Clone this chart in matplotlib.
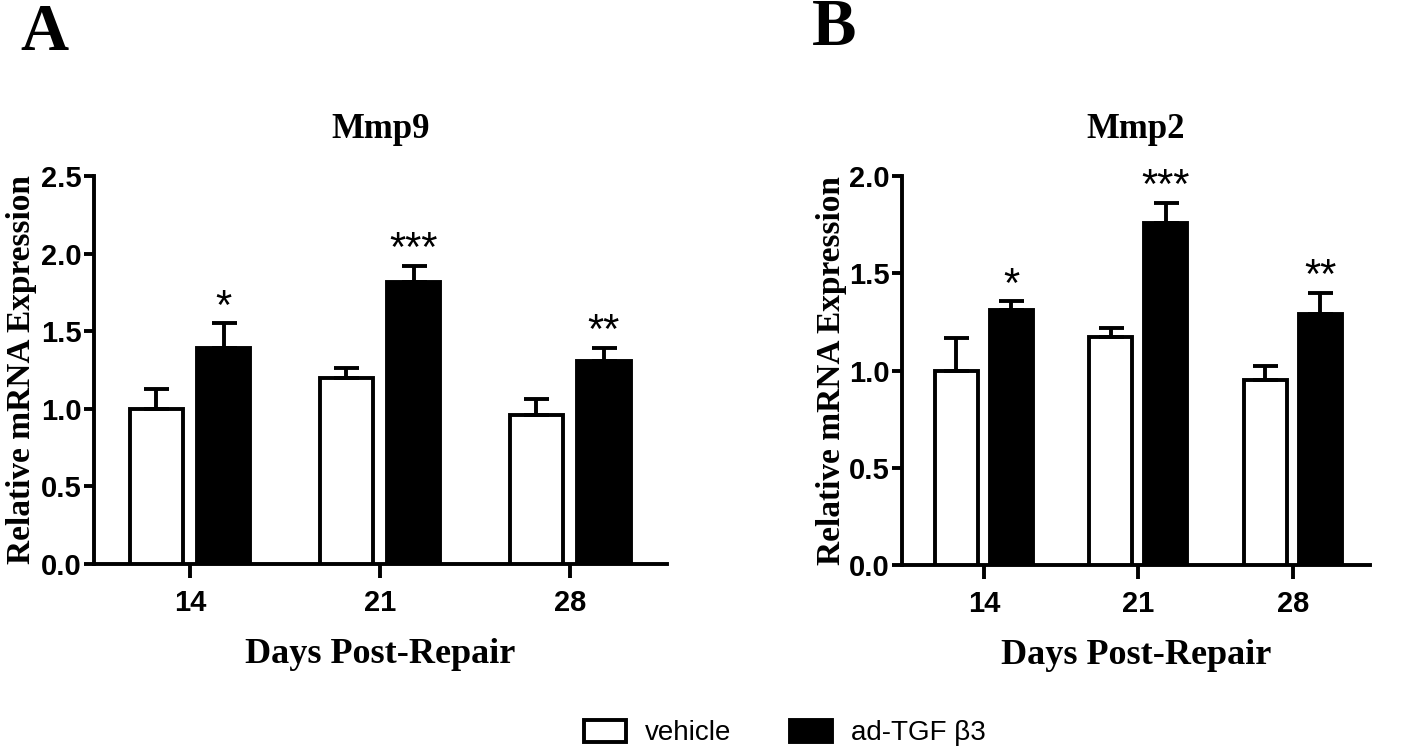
import matplotlib
matplotlib.use("Agg")
import matplotlib.pyplot as plt
import numpy as np
from matplotlib.patches import Patch

days = ["14", "21", "28"]
groups = ["vehicle", "ad-TGF β3"]

mmp9_vehicle = [1.00, 1.20, 0.96]
mmp9_vehicle_err = [0.13, 0.06, 0.10]
mmp9_tgf = [1.39, 1.82, 1.31]
mmp9_tgf_err = [0.16, 0.10, 0.08]
mmp9_sig = ["*", "***", "**"]

mmp2_vehicle = [1.00, 1.17, 0.95]
mmp2_vehicle_err = [0.165, 0.05, 0.075]
mmp2_tgf = [1.31, 1.76, 1.29]
mmp2_tgf_err = [0.045, 0.10, 0.11]
mmp2_sig = ["*", "***", "**"]

SERIF = "Liberation Serif"
SANS = "Liberation Sans"
LW = 2.8

fig = plt.figure(figsize=(14.18, 7.49), dpi=100)
axA = fig.add_axes([94/1418, 1-564/749, 573/1418, 388/749])
axB = fig.add_axes([902/1418, 1-565/749, 468/1418, 389/749])


def panel(ax, veh, veh_err, tgf, tgf_err, sig, title, ymax, yticks, xlim, ylpad):
    x = np.arange(len(days))
    w = 0.28
    off = 0.178
    ek = dict(elinewidth=LW, capthick=LW, ecolor="black", capsize=9)
    ax.bar(x - off, veh, w, color="white", edgecolor="black", linewidth=LW,
           yerr=[np.zeros(len(veh)), veh_err], error_kw=ek, zorder=3)
    ax.bar(x + off, tgf, w, color="black", edgecolor="black", linewidth=LW,
           yerr=[np.zeros(len(tgf)), tgf_err], error_kw=ek, zorder=3)
    for i in range(len(days)):
        ax.annotate(sig[i], (x[i] + off, tgf[i] + tgf_err[i]), xytext=(0, -3),
                    textcoords="offset points", ha="center", va="bottom",
                    fontsize=30, fontfamily=SANS)
    ax.set_ylim(0, ymax)
    ax.set_xlim(*xlim)
    ax.set_yticks(yticks)
    ax.set_yticklabels([f"{t:.1f}" for t in yticks], fontfamily=SANS,
                       fontweight="bold", fontsize=21)
    ax.set_xticks(x)
    ax.set_xticklabels(days, fontfamily=SANS, fontweight="bold", fontsize=21)
    ax.tick_params(axis="y", direction="out", length=7, width=LW, pad=2)
    ax.tick_params(axis="x", direction="out", length=10, width=LW, pad=8)
    for s in ["top", "right"]:
        ax.spines[s].set_visible(False)
    for s in ["left", "bottom"]:
        ax.spines[s].set_linewidth(LW)
    ax.set_title(title, fontfamily=SERIF, fontweight="bold", fontsize=25, pad=27)
    ax.set_xlabel("Days Post-Repair", fontfamily=SERIF, fontweight="bold",
                  fontsize=26, labelpad=15)
    ax.set_ylabel("Relative mRNA Expression", fontfamily=SERIF,
                  fontweight="bold", fontsize=24, labelpad=ylpad)


panel(axA, mmp9_vehicle, mmp9_vehicle_err, mmp9_tgf, mmp9_tgf_err, mmp9_sig,
      "Mmp9", 2.5, [0.0, 0.5, 1.0, 1.5, 2.0, 2.5], (-0.505, 2.51), 3)
panel(axB, mmp2_vehicle, mmp2_vehicle_err, mmp2_tgf, mmp2_tgf_err, mmp2_sig,
      "Mmp2", 2.0, [0.0, 0.5, 1.0, 1.5, 2.0], (-0.53, 2.5), 1)

fig.text(44/1418, 1-50/749, "A", fontfamily=SERIF, fontweight="bold",
         fontsize=48, ha="center", va="baseline")
fig.text(834/1418, 1-45/749, "B", fontfamily=SERIF, fontweight="bold",
         fontsize=48, ha="center", va="baseline")

handles = [Patch(facecolor="white", edgecolor="black", linewidth=LW),
           Patch(facecolor="black", edgecolor="black", linewidth=LW)]
fig.legend(handles, groups, loc="center", bbox_to_anchor=(785/1418, 1-733/749),
           ncol=2, frameon=False, prop={"family": SANS, "size": 20},
           handlelength=1.5, handleheight=0.85, columnspacing=2.1,
           handletextpad=0.7)

fig.savefig("out.png", dpi=100)
